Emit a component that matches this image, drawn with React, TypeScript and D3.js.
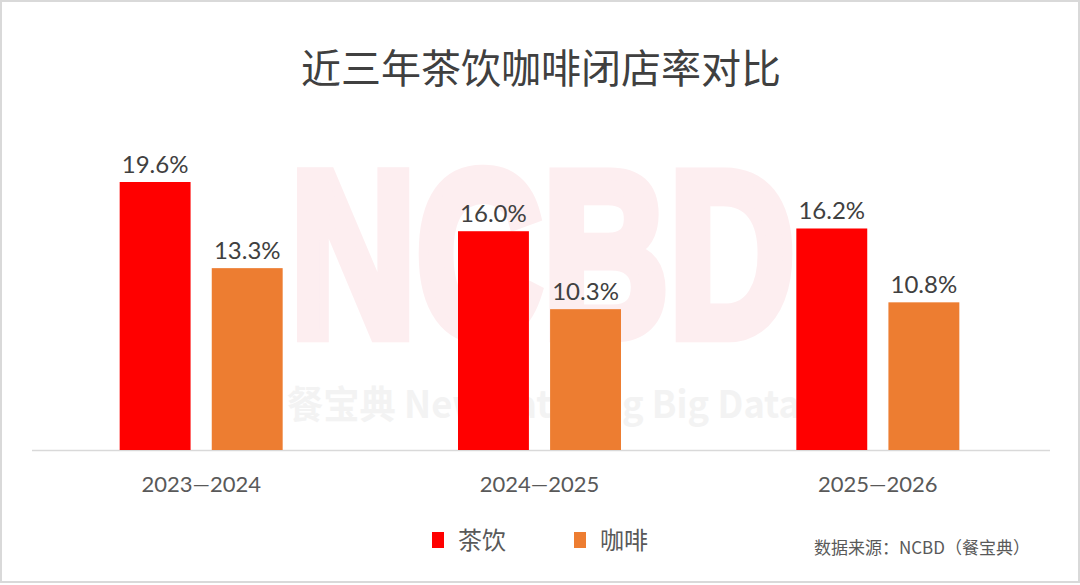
import React from "react";
import * as d3 from "d3";

const categories = ["2023—2024", "2024—2025", "2025—2026"];
const seriesNames = ["茶饮", "咖啡"];
const teaValues = [19.6, 16.0, 16.2];
const coffeeValues = [13.3, 10.3, 10.8];
const colors = ["#FF0000", "#ED7D31"];

const W = 1080;
const H = 585;
const baseY = 450;
const cjk = "'Noto Sans CJK SC', 'Noto Sans', sans-serif";
const latin = "Lato, 'Noto Sans', sans-serif";

export default function App() {
  const x0 = d3.scaleBand<string>().domain(categories).range([32, 1047]).paddingInner(0).paddingOuter(0);
  const x1 = d3.scaleBand<string>().domain(seriesNames).range([0, 163]).paddingInner(0.23).paddingOuter(0);
  const y = d3.scaleLinear().domain([0, 19.6]).range([baseY, 182]);
  const series = [teaValues, coffeeValues];

  return (
    <svg width={W} height={H} style={{ position: "absolute", left: 0, top: 0, background: "#fff" }}>
      <rect x={1} y={1} width={W - 2} height={H - 4} fill="#fff" stroke="#d9d9d9" strokeWidth={2} />
      {/* watermark */}
      <g transform="translate(290,336) scale(1,1.4)">
        <text x={0} y={0} fontFamily="'Liberation Sans', Arial, sans-serif" fontWeight={700} fontSize={168}
          fill="#fdeef0" stroke="#fdeef0" strokeWidth={9} strokeLinejoin="miter"
          textLength={505} lengthAdjust="spacingAndGlyphs">NCBD</text>
      </g>
      <text x={287} y={418} fontFamily={cjk} fontWeight={700} fontSize={38}
        fill="#f3f3f3" textLength={513} lengthAdjust="spacingAndGlyphs">餐宝典 New Catering Big Data</text>

      <text x={541} y={83} textAnchor="middle" fontFamily={cjk} fontSize={40} fill="#404040">近三年茶饮咖啡闭店率对比</text>

      <line x1={32} x2={1050} y1={baseY + 0.5} y2={baseY + 0.5} stroke="#d9d9d9" strokeWidth={1.5} />

      {categories.map((c, i) => {
        const gx = x0(c)! + (x0.bandwidth() - 163) / 2;
        return (
          <g key={c}>
            {seriesNames.map((s, j) => {
              const v = series[j][i];
              const bx = gx + x1(s)!;
              return (
                <g key={s}>
                  <rect x={bx} y={y(v)} width={x1.bandwidth()} height={baseY - y(v)} fill={colors[j]} />
                  <text x={bx + x1.bandwidth() / 2} y={y(v) - 9} textAnchor="middle" fontFamily={latin}
                    fontSize={24} fill="#404040">{v.toFixed(1) + "%"}</text>
                </g>
              );
            })}
            <text x={x0(c)! + x0.bandwidth() / 2} y={492} textAnchor="middle" fontFamily={latin}
              fontSize={22} fill="#595959">{c}</text>
          </g>
        );
      })}

      {seriesNames.map((s, j) => {
        const lx = 432 + j * 142;
        return (
          <g key={s}>
            <rect x={lx} y={532} width={12} height={16} fill={colors[j]} />
            <text x={lx + 26} y={549} fontFamily={cjk} fontSize={24} fill="#595959">{s}</text>
          </g>
        );
      })}

      <text x={1030} y={554} textAnchor="end" fontFamily={cjk} fontSize={17} fill="#595959">数据来源：NCBD（餐宝典）</text>
    </svg>
  );
}
